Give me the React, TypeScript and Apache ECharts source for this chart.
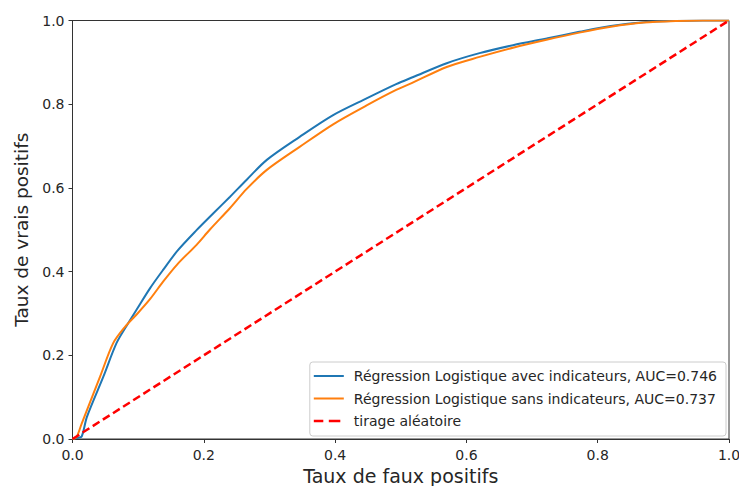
import React, { useEffect, useRef } from "react";
import * as echarts from "echarts";

const fprAvec = [0, 0.008, 0.014, 0.022, 0.047, 0.067, 0.083, 0.098, 0.118, 0.138, 0.16, 0.189, 0.215, 0.24, 0.265, 0.296, 0.346, 0.397, 0.448, 0.493, 0.519, 0.57, 0.62, 0.671, 0.722, 0.772, 0.82, 0.87, 0.92, 0.96, 1.0];
const tprAvec = [0, 0.003, 0.006, 0.053, 0.149, 0.229, 0.272, 0.31, 0.36, 0.404, 0.45, 0.499, 0.54, 0.579, 0.619, 0.667, 0.722, 0.774, 0.814, 0.848, 0.865, 0.898, 0.922, 0.941, 0.957, 0.973, 0.987, 0.996, 0.999, 1.0, 1.0];

const fprSans = [0, 0.006, 0.014, 0.042, 0.062, 0.08, 0.098, 0.118, 0.138, 0.16, 0.189, 0.209, 0.24, 0.265, 0.296, 0.346, 0.397, 0.448, 0.493, 0.519, 0.57, 0.62, 0.671, 0.722, 0.772, 0.82, 0.87, 0.92, 0.96, 1.0];
const tprSans = [0, 0.004, 0.037, 0.149, 0.229, 0.268, 0.298, 0.334, 0.376, 0.418, 0.464, 0.5, 0.552, 0.597, 0.643, 0.698, 0.752, 0.797, 0.834, 0.852, 0.889, 0.913, 0.935, 0.954, 0.971, 0.985, 0.995, 0.999, 1.0, 1.0];

const fprRandom = [0, 1];
const tprRandom = [0, 1];

const seriesNames = [
  "Régression Logistique avec indicateurs, AUC=0.746",
  "Régression Logistique sans indicateurs, AUC=0.737",
  "tirage aléatoire",
];
const xTitle = "Taux de faux positifs";
const yTitle = "Taux de vrais positifs";

const FONT = "DejaVu Sans";
const TXT = "#262626";

const SOLID_ICON = "path://M0,0L30,0L30,0L0,0Z M0,6L30,6L30,8L0,8Z M0,14L30,14L30,14L0,14Z";
const DASH_ICON = "path://M0,0L30,0L30,0L0,0Z M0,5.8L9.5,5.8L9.5,8.3L0,8.3Z M15,5.8L26.5,5.8L26.5,8.3L15,8.3Z M0,14L30,14L30,14L0,14Z";

function pairs(xs: number[], ys: number[]) {
  return xs.map((x, i) => [x, ys[i]]);
}

export default function App() {
  const ref = useRef<HTMLDivElement>(null);
  useEffect(() => {
    if (!ref.current) return;
    const chart = echarts.init(ref.current, null, { renderer: "svg" });
    const axisCommon = {
      type: "value" as const,
      min: 0,
      max: 1,
      interval: 0.2,
      splitLine: { show: false },
      axisLine: { show: true, lineStyle: { color: "#333", width: 1 } },
      axisTick: { show: true, inside: false, length: 4, lineStyle: { color: "#333" } },
      axisLabel: {
        color: TXT,
        fontFamily: FONT,
        fontSize: 14,
        formatter: (v: number) => v.toFixed(1),
      },
      nameLocation: "middle" as const,
      nameTextStyle: { color: TXT, fontFamily: FONT, fontSize: 19 },
    };
    chart.setOption({
      animation: false,
      backgroundColor: "#fff",
      grid: {
        left: 72.5,
        right: 10,
        top: 20.5,
        bottom: 47,
        outerBoundsMode: "none",
        containLabel: false,
        show: true,
        borderColor: "#333",
        borderWidth: 1,
        backgroundColor: "transparent",
      },
      xAxis: {
        ...axisCommon,
        name: xTitle,
        nameGap: 25,
        axisLabel: { ...axisCommon.axisLabel, margin: 9 },
      },
      yAxis: {
        ...axisCommon,
        name: yTitle,
        nameGap: 42,
        nameTextStyle: { ...axisCommon.nameTextStyle, fontSize: 18.5 },
        axisLabel: { ...axisCommon.axisLabel, margin: 8 },
      },
      legend: {
        orient: "vertical",
        right: 13,
        bottom: 50,
        backgroundColor: "#fff",
        borderColor: "#cccccc",
        borderWidth: 1,
        borderRadius: 3,
        padding: [7, 9, 8, 4],
        itemGap: 8.5,
        itemWidth: 30,
        itemHeight: 14,
        itemStyle: { borderWidth: 0 },
        textStyle: { color: TXT, fontFamily: FONT, fontSize: 14, padding: [0, 0, 0, 5] },
        data: [
          { name: seriesNames[0], icon: SOLID_ICON, itemStyle: { color: "#1f77b4" } },
          { name: seriesNames[1], icon: SOLID_ICON, itemStyle: { color: "#ff7f0e" } },
          { name: seriesNames[2], icon: DASH_ICON, itemStyle: { color: "#ff0000" } },
        ],
      },
      series: [
        {
          name: seriesNames[0],
          type: "line",
          data: pairs(fprAvec, tprAvec),
          showSymbol: false,
          symbol: "none",
          smooth: 0.3,
          lineStyle: { color: "#1f77b4", width: 2 },
          itemStyle: { color: "#1f77b4" },
          z: 3,
        },
        {
          name: seriesNames[1],
          type: "line",
          data: pairs(fprSans, tprSans),
          showSymbol: false,
          symbol: "none",
          smooth: 0.3,
          lineStyle: { color: "#ff7f0e", width: 2 },
          itemStyle: { color: "#ff7f0e" },
          z: 4,
        },
        {
          name: seriesNames[2],
          type: "line",
          data: pairs(fprRandom, tprRandom),
          showSymbol: false,
          symbol: "none",
          lineStyle: { color: "#ff0000", width: 2.5, type: [8, 4] },
          itemStyle: { color: "#ff0000" },
          z: 5,
        },
      ],
    });
    return () => chart.dispose();
  }, []);
  return (
    <div
      ref={ref}
      style={{ position: "fixed", left: 0, top: 0, width: 739, height: 486 }}
    />
  );
}
